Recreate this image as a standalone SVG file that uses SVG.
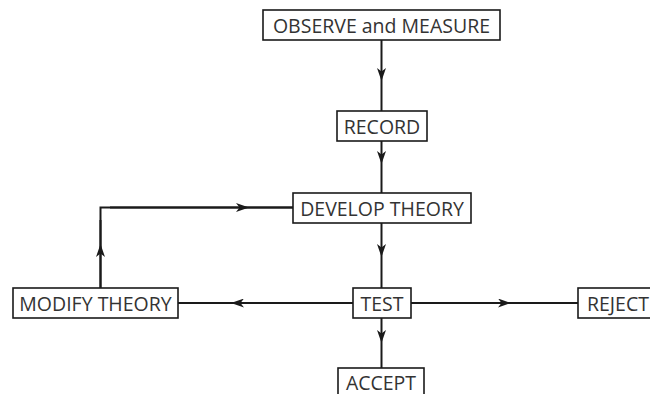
<svg xmlns="http://www.w3.org/2000/svg" width="650" height="394" viewBox="0 0 650 394">
<style>
.box{fill:#fff;stroke:#1a1a1a;stroke-width:1.6}
.t{font-family:"Open Sans","Noto Sans",sans-serif;font-size:19.5px;fill:#333;text-anchor:middle}
.c{fill:none;stroke:#1a1a1a;stroke-width:2;marker-mid:url(#ah)}
.p{fill:none;stroke:#1a1a1a;stroke-width:2}
</style>
<defs>
<marker id="ah" viewBox="0 0 13 9" refX="12" refY="4.5" markerWidth="13" markerHeight="9" markerUnits="userSpaceOnUse" orient="auto">
<path d="M0,0 L13,4.5 L0,9 L3.5,4.5 Z" fill="#1a1a1a"/>
</marker>
</defs>
<rect width="650" height="394" fill="#fff"/>
<g id="connectors">
<path class="c" d="M381.5,40 L381.5,80 L381.5,111"/>
<path class="c" d="M381.5,141 L381.5,163 L381.5,193"/>
<path class="c" d="M381.5,223 L381.5,256 L381.5,288"/>
<path class="c" d="M353,303 L232,303 L178,303"/>
<path class="p" d="M100.5,288 L100.5,207.5 L293,207.5"/>
<path class="c" d="M100.5,288 L100.5,245 L100.5,220"/>
<path class="c" d="M110,207.5 L248,207.5 L293,207.5"/>
<path class="c" d="M411,303 L510,303 L578,303"/>
<path class="c" d="M381.5,318 L381.5,342 L381.5,368"/>
</g>
<g id="observe"><rect class="box" x="263" y="10" width="237" height="30"/><text class="t" x="381.5" y="32.5">OBSERVE and MEASURE</text></g>
<g id="record"><rect class="box" x="337" y="111" width="90" height="30"/><text class="t" x="382" y="133.5">RECORD</text></g>
<g id="develop"><rect class="box" x="293" y="193" width="178" height="30"/><text class="t" x="382" y="215.5">DEVELOP THEORY</text></g>
<g id="test"><rect class="box" x="353" y="288" width="58" height="30"/><text class="t" x="382" y="310.5">TEST</text></g>
<g id="modify"><rect class="box" x="13" y="288" width="165" height="30"/><text class="t" x="95.5" y="310.5">MODIFY THEORY</text></g>
<g id="reject"><rect class="box" x="578" y="288" width="90" height="30"/><text class="t" x="587" y="310.5" style="text-anchor:start">REJECT</text></g>
<g id="accept"><rect class="box" x="338" y="368" width="86" height="40"/><text class="t" x="381" y="389.5">ACCEPT</text></g>
</svg>
